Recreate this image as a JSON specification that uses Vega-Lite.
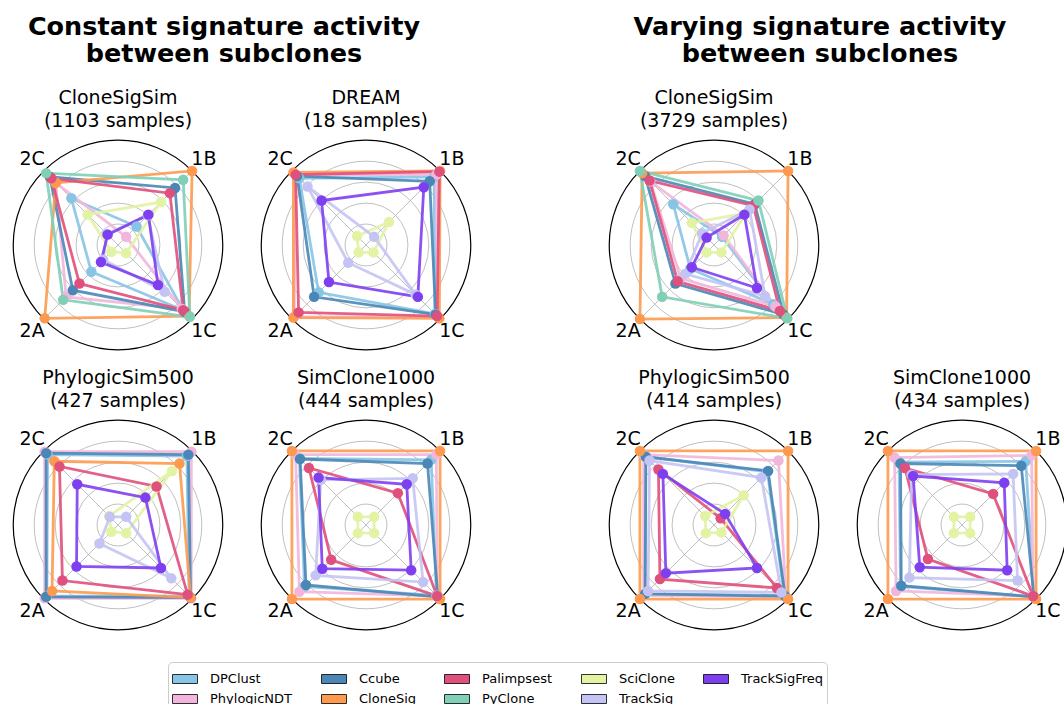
{
  "$schema": "https://vega.github.io/schema/vega-lite/v6.json",
  "padding": {"left": 8, "top": 14, "right": 0, "bottom": 0},
  "background": "white",
  "config": {
    "view": {"stroke": null},
    "font": "DejaVu Sans",
    "title": {"font": "DejaVu Sans", "fontSize": 19, "fontWeight": "normal", "color": "black", "lineHeight": 23, "offset": 4},
    "concat": {"spacing": 28}
  },
  "datasets": {
    "grid": [{"r": 0.2}, {"r": 0.4}, {"r": 0.6}, {"r": 0.8}],
    "outer": [{"r": 1.0}],
    "spokes": [{"a": "1B"}, {"a": "1C"}, {"a": "2A"}, {"a": "2C"}],
    "scores": [
      {"p":"P1","m":"DPClust","a":"1B","v":0.25},{"p":"P1","m":"DPClust","a":"1C","v":0.88},{"p":"P1","m":"DPClust","a":"2A","v":0.36},{"p":"P1","m":"DPClust","a":"2C","v":0.63},
      {"p":"P1","m":"PhylogicNDT","a":"1B","v":0.11},{"p":"P1","m":"PhylogicNDT","a":"1C","v":0.86},{"p":"P1","m":"PhylogicNDT","a":"2A","v":0.70},{"p":"P1","m":"PhylogicNDT","a":"2C","v":0.84},
      {"p":"P1","m":"Ccube","a":"1B","v":0.77},{"p":"P1","m":"Ccube","a":"1C","v":0.90},{"p":"P1","m":"Ccube","a":"2A","v":0.61},{"p":"P1","m":"Ccube","a":"2C","v":0.92},
      {"p":"P1","m":"CloneSig","a":"1B","v":1.0},{"p":"P1","m":"CloneSig","a":"1C","v":0.96},{"p":"P1","m":"CloneSig","a":"2A","v":0.99},{"p":"P1","m":"CloneSig","a":"2C","v":0.84},
      {"p":"P1","m":"Palimpsest","a":"1B","v":0.70},{"p":"P1","m":"Palimpsest","a":"1C","v":0.88},{"p":"P1","m":"Palimpsest","a":"2A","v":0.52},{"p":"P1","m":"Palimpsest","a":"2C","v":0.90},
      {"p":"P1","m":"PyClone","a":"1B","v":0.88},{"p":"P1","m":"PyClone","a":"1C","v":0.97},{"p":"P1","m":"PyClone","a":"2A","v":0.74},{"p":"P1","m":"PyClone","a":"2C","v":0.97},
      {"p":"P1","m":"SciClone","a":"1B","v":0.58},{"p":"P1","m":"SciClone","a":"1C","v":0.11},{"p":"P1","m":"SciClone","a":"2A","v":0.09},{"p":"P1","m":"SciClone","a":"2C","v":0.41},
      {"p":"P1","m":"TrackSig","a":"1B","v":0.40},{"p":"P1","m":"TrackSig","a":"1C","v":0.63},{"p":"P1","m":"TrackSig","a":"2A","v":0.20},{"p":"P1","m":"TrackSig","a":"2C","v":0.15},
      {"p":"P1","m":"TrackSigFreq","a":"1B","v":0.41},{"p":"P1","m":"TrackSigFreq","a":"1C","v":0.54},{"p":"P1","m":"TrackSigFreq","a":"2A","v":0.23},{"p":"P1","m":"TrackSigFreq","a":"2C","v":0.14},

      {"p":"P2","m":"DPClust","a":"1B","v":0.92},{"p":"P2","m":"DPClust","a":"1C","v":0.93},{"p":"P2","m":"DPClust","a":"2A","v":0.64},{"p":"P2","m":"DPClust","a":"2C","v":0.90},
      {"p":"P2","m":"PhylogicNDT","a":"1B","v":0.95},{"p":"P2","m":"PhylogicNDT","a":"1C","v":0.97},{"p":"P2","m":"PhylogicNDT","a":"2A","v":0.97},{"p":"P2","m":"PhylogicNDT","a":"2C","v":0.95},
      {"p":"P2","m":"Ccube","a":"1B","v":0.86},{"p":"P2","m":"Ccube","a":"1C","v":0.94},{"p":"P2","m":"Ccube","a":"2A","v":0.70},{"p":"P2","m":"Ccube","a":"2C","v":0.93},
      {"p":"P2","m":"CloneSig","a":"1B","v":1.0},{"p":"P2","m":"CloneSig","a":"1C","v":0.99},{"p":"P2","m":"CloneSig","a":"2A","v":0.98},{"p":"P2","m":"CloneSig","a":"2C","v":0.98},
      {"p":"P2","m":"Palimpsest","a":"1B","v":0.99},{"p":"P2","m":"Palimpsest","a":"1C","v":0.96},{"p":"P2","m":"Palimpsest","a":"2A","v":0.91},{"p":"P2","m":"Palimpsest","a":"2C","v":0.95},
      {"p":"P2","m":"SciClone","a":"1B","v":0.31},{"p":"P2","m":"SciClone","a":"1C","v":0.10},{"p":"P2","m":"SciClone","a":"2A","v":0.10},{"p":"P2","m":"SciClone","a":"2C","v":0.12},
      {"p":"P2","m":"TrackSig","a":"1B","v":0.11},{"p":"P2","m":"TrackSig","a":"1C","v":0.67},{"p":"P2","m":"TrackSig","a":"2A","v":0.24},{"p":"P2","m":"TrackSig","a":"2C","v":0.79},
      {"p":"P2","m":"TrackSigFreq","a":"1B","v":0.78},{"p":"P2","m":"TrackSigFreq","a":"1C","v":0.70},{"p":"P2","m":"TrackSigFreq","a":"2A","v":0.50},{"p":"P2","m":"TrackSigFreq","a":"2C","v":0.60},

      {"p":"P3","m":"DPClust","a":"1B","v":0.11},{"p":"P3","m":"DPClust","a":"1C","v":0.80},{"p":"P3","m":"DPClust","a":"2A","v":0.32},{"p":"P3","m":"DPClust","a":"2C","v":0.55},
      {"p":"P3","m":"PhylogicNDT","a":"1B","v":0.13},{"p":"P3","m":"PhylogicNDT","a":"1C","v":0.83},{"p":"P3","m":"PhylogicNDT","a":"2A","v":0.45},{"p":"P3","m":"PhylogicNDT","a":"2C","v":0.86},
      {"p":"P3","m":"Ccube","a":"1B","v":0.55},{"p":"P3","m":"Ccube","a":"1C","v":0.94},{"p":"P3","m":"Ccube","a":"2A","v":0.52},{"p":"P3","m":"Ccube","a":"2C","v":0.93},
      {"p":"P3","m":"CloneSig","a":"1B","v":1.0},{"p":"P3","m":"CloneSig","a":"1C","v":0.98},{"p":"P3","m":"CloneSig","a":"2A","v":1.0},{"p":"P3","m":"CloneSig","a":"2C","v":0.97},
      {"p":"P3","m":"Palimpsest","a":"1B","v":0.53},{"p":"P3","m":"Palimpsest","a":"1C","v":0.89},{"p":"P3","m":"Palimpsest","a":"2A","v":0.49},{"p":"P3","m":"Palimpsest","a":"2C","v":0.87},
      {"p":"P3","m":"PyClone","a":"1B","v":0.60},{"p":"P3","m":"PyClone","a":"1C","v":0.99},{"p":"P3","m":"PyClone","a":"2A","v":0.70},{"p":"P3","m":"PyClone","a":"2C","v":1.0},
      {"p":"P3","m":"SciClone","a":"1B","v":0.43},{"p":"P3","m":"SciClone","a":"1C","v":0.10},{"p":"P3","m":"SciClone","a":"2A","v":0.10},{"p":"P3","m":"SciClone","a":"2C","v":0.30},
      {"p":"P3","m":"TrackSig","a":"1B","v":0.48},{"p":"P3","m":"TrackSig","a":"1C","v":0.69},{"p":"P3","m":"TrackSig","a":"2A","v":0.39},{"p":"P3","m":"TrackSig","a":"2C","v":0.16},
      {"p":"P3","m":"TrackSigFreq","a":"1B","v":0.41},{"p":"P3","m":"TrackSigFreq","a":"1C","v":0.58},{"p":"P3","m":"TrackSigFreq","a":"2A","v":0.30},{"p":"P3","m":"TrackSigFreq","a":"2C","v":0.10},

      {"p":"P4","m":"DPClust","a":"1B","v":0.93},{"p":"P4","m":"DPClust","a":"1C","v":0.96},{"p":"P4","m":"DPClust","a":"2A","v":0.96},{"p":"P4","m":"DPClust","a":"2C","v":0.95},
      {"p":"P4","m":"PhylogicNDT","a":"1B","v":0.99},{"p":"P4","m":"PhylogicNDT","a":"1C","v":0.99},{"p":"P4","m":"PhylogicNDT","a":"2A","v":0.99},{"p":"P4","m":"PhylogicNDT","a":"2C","v":0.99},
      {"p":"P4","m":"Ccube","a":"1B","v":0.95},{"p":"P4","m":"Ccube","a":"1C","v":0.98},{"p":"P4","m":"Ccube","a":"2A","v":0.97},{"p":"P4","m":"Ccube","a":"2C","v":0.97},
      {"p":"P4","m":"CloneSig","a":"1B","v":0.83},{"p":"P4","m":"CloneSig","a":"1C","v":0.98},{"p":"P4","m":"CloneSig","a":"2A","v":0.89},{"p":"P4","m":"CloneSig","a":"2C","v":0.86},
      {"p":"P4","m":"Palimpsest","a":"1B","v":0.52},{"p":"P4","m":"Palimpsest","a":"1C","v":0.94},{"p":"P4","m":"Palimpsest","a":"2A","v":0.75},{"p":"P4","m":"Palimpsest","a":"2C","v":0.79},
      {"p":"P4","m":"SciClone","a":"1B","v":0.73},{"p":"P4","m":"SciClone","a":"1C","v":0.11},{"p":"P4","m":"SciClone","a":"2A","v":0.09},{"p":"P4","m":"SciClone","a":"2C","v":0.12},
      {"p":"P4","m":"TrackSig","a":"1B","v":0.11},{"p":"P4","m":"TrackSig","a":"1C","v":0.72},{"p":"P4","m":"TrackSig","a":"2A","v":0.25},{"p":"P4","m":"TrackSig","a":"2C","v":0.11},
      {"p":"P4","m":"TrackSigFreq","a":"1B","v":0.37},{"p":"P4","m":"TrackSigFreq","a":"1C","v":0.58},{"p":"P4","m":"TrackSigFreq","a":"2A","v":0.56},{"p":"P4","m":"TrackSigFreq","a":"2C","v":0.55},

      {"p":"P5","m":"DPClust","a":"1B","v":0.88},{"p":"P5","m":"DPClust","a":"1C","v":0.95},{"p":"P5","m":"DPClust","a":"2A","v":0.83},{"p":"P5","m":"DPClust","a":"2C","v":0.90},
      {"p":"P5","m":"PhylogicNDT","a":"1B","v":0.95},{"p":"P5","m":"PhylogicNDT","a":"1C","v":0.96},{"p":"P5","m":"PhylogicNDT","a":"2A","v":0.90},{"p":"P5","m":"PhylogicNDT","a":"2C","v":0.95},
      {"p":"P5","m":"Ccube","a":"1B","v":0.83},{"p":"P5","m":"Ccube","a":"1C","v":0.97},{"p":"P5","m":"Ccube","a":"2A","v":0.81},{"p":"P5","m":"Ccube","a":"2C","v":0.89},
      {"p":"P5","m":"CloneSig","a":"1B","v":1.0},{"p":"P5","m":"CloneSig","a":"1C","v":1.0},{"p":"P5","m":"CloneSig","a":"2A","v":1.0},{"p":"P5","m":"CloneSig","a":"2C","v":1.0},
      {"p":"P5","m":"Palimpsest","a":"1B","v":0.43},{"p":"P5","m":"Palimpsest","a":"1C","v":0.96},{"p":"P5","m":"Palimpsest","a":"2A","v":0.47},{"p":"P5","m":"Palimpsest","a":"2C","v":0.77},
      {"p":"P5","m":"SciClone","a":"1B","v":0.11},{"p":"P5","m":"SciClone","a":"1C","v":0.11},{"p":"P5","m":"SciClone","a":"2A","v":0.11},{"p":"P5","m":"SciClone","a":"2C","v":0.11},
      {"p":"P5","m":"TrackSig","a":"1B","v":0.63},{"p":"P5","m":"TrackSig","a":"1C","v":0.77},{"p":"P5","m":"TrackSig","a":"2A","v":0.68},{"p":"P5","m":"TrackSig","a":"2C","v":0.61},
      {"p":"P5","m":"TrackSigFreq","a":"1B","v":0.55},{"p":"P5","m":"TrackSigFreq","a":"1C","v":0.61},{"p":"P5","m":"TrackSigFreq","a":"2A","v":0.59},{"p":"P5","m":"TrackSigFreq","a":"2C","v":0.64},

      {"p":"P6","m":"DPClust","a":"1B","v":0.72},{"p":"P6","m":"DPClust","a":"1C","v":0.95},{"p":"P6","m":"DPClust","a":"2A","v":0.93},{"p":"P6","m":"DPClust","a":"2C","v":0.92},
      {"p":"P6","m":"PhylogicNDT","a":"1B","v":0.87},{"p":"P6","m":"PhylogicNDT","a":"1C","v":0.97},{"p":"P6","m":"PhylogicNDT","a":"2A","v":0.95},{"p":"P6","m":"PhylogicNDT","a":"2C","v":0.95},
      {"p":"P6","m":"Ccube","a":"1B","v":0.73},{"p":"P6","m":"Ccube","a":"1C","v":0.96},{"p":"P6","m":"Ccube","a":"2A","v":0.93},{"p":"P6","m":"Ccube","a":"2C","v":0.92},
      {"p":"P6","m":"CloneSig","a":"1B","v":1.0},{"p":"P6","m":"CloneSig","a":"1C","v":1.0},{"p":"P6","m":"CloneSig","a":"2A","v":1.0},{"p":"P6","m":"CloneSig","a":"2C","v":1.0},
      {"p":"P6","m":"Palimpsest","a":"1B","v":0.09},{"p":"P6","m":"Palimpsest","a":"1C","v":0.85},{"p":"P6","m":"Palimpsest","a":"2A","v":0.73},{"p":"P6","m":"Palimpsest","a":"2C","v":0.75},
      {"p":"P6","m":"SciClone","a":"1B","v":0.40},{"p":"P6","m":"SciClone","a":"1C","v":0.10},{"p":"P6","m":"SciClone","a":"2A","v":0.11},{"p":"P6","m":"SciClone","a":"2C","v":0.12},
      {"p":"P6","m":"TrackSig","a":"1B","v":0.64},{"p":"P6","m":"TrackSig","a":"1C","v":0.91},{"p":"P6","m":"TrackSig","a":"2A","v":0.89},{"p":"P6","m":"TrackSig","a":"2C","v":0.87},
      {"p":"P6","m":"TrackSigFreq","a":"1B","v":0.15},{"p":"P6","m":"TrackSigFreq","a":"1C","v":0.58},{"p":"P6","m":"TrackSigFreq","a":"2A","v":0.65},{"p":"P6","m":"TrackSigFreq","a":"2C","v":0.69},

      {"p":"P7","m":"DPClust","a":"1B","v":0.86},{"p":"P7","m":"DPClust","a":"1C","v":0.97},{"p":"P7","m":"DPClust","a":"2A","v":0.83},{"p":"P7","m":"DPClust","a":"2C","v":0.85},
      {"p":"P7","m":"PhylogicNDT","a":"1B","v":0.94},{"p":"P7","m":"PhylogicNDT","a":"1C","v":0.96},{"p":"P7","m":"PhylogicNDT","a":"2A","v":0.89},{"p":"P7","m":"PhylogicNDT","a":"2C","v":0.91},
      {"p":"P7","m":"Ccube","a":"1B","v":0.80},{"p":"P7","m":"Ccube","a":"1C","v":0.97},{"p":"P7","m":"Ccube","a":"2A","v":0.82},{"p":"P7","m":"Ccube","a":"2C","v":0.83},
      {"p":"P7","m":"CloneSig","a":"1B","v":1.0},{"p":"P7","m":"CloneSig","a":"1C","v":1.0},{"p":"P7","m":"CloneSig","a":"2A","v":1.0},{"p":"P7","m":"CloneSig","a":"2C","v":1.0},
      {"p":"P7","m":"Palimpsest","a":"1B","v":0.42},{"p":"P7","m":"Palimpsest","a":"1C","v":0.96},{"p":"P7","m":"Palimpsest","a":"2A","v":0.46},{"p":"P7","m":"Palimpsest","a":"2C","v":0.77},
      {"p":"P7","m":"SciClone","a":"1B","v":0.11},{"p":"P7","m":"SciClone","a":"1C","v":0.11},{"p":"P7","m":"SciClone","a":"2A","v":0.11},{"p":"P7","m":"SciClone","a":"2C","v":0.11},
      {"p":"P7","m":"TrackSig","a":"1B","v":0.69},{"p":"P7","m":"TrackSig","a":"1C","v":0.75},{"p":"P7","m":"TrackSig","a":"2A","v":0.71},{"p":"P7","m":"TrackSig","a":"2C","v":0.68},
      {"p":"P7","m":"TrackSigFreq","a":"1B","v":0.57},{"p":"P7","m":"TrackSigFreq","a":"1C","v":0.61},{"p":"P7","m":"TrackSigFreq","a":"2A","v":0.57},{"p":"P7","m":"TrackSigFreq","a":"2C","v":0.66}
    ]
  },
  "resolve": {"scale": {"fill": "independent"}, "legend": {"fill": "independent"}},
  "spacing": 22,
  "vconcat": [
  {
  "spacing": 128,
  "hconcat": [
    {
      "title": {"text": ["Constant signature activity", "between subclones"], "fontSize": 25.5, "fontWeight": "bold", "lineHeight": 27, "anchor": "middle", "dx": -18, "offset": 22},
      "spacing": 14,
      "vconcat": [
        {"spacing": 28, "hconcat": [
          {"width": 220, "height": 220, "title": {"text": ["CloneSigSim", "(1103 samples)"]},
           "layer": [
            {"data": {"name": "grid"}, "transform": [{"calculate": "0", "as": "o"}], "mark": {"type": "point", "shape": "circle", "filled": false, "stroke": "#b0b0b0", "strokeWidth": 0.8, "opacity": 1}, "encoding": {"x": {"field": "o", "type": "quantitative", "scale": {"domain": [-1.05, 1.05], "nice": false, "zero": false}, "axis": null}, "y": {"field": "o", "type": "quantitative", "scale": {"domain": [-1.05, 1.05], "nice": false, "zero": false}, "axis": null}, "size": {"field": "r", "type": "quantitative", "scale": {"type": "pow", "exponent": 2, "domain": [0, 1.05], "range": [0, 48400]}, "legend": null}}},
            {"data": {"name": "outer"}, "transform": [{"calculate": "0", "as": "o"}], "mark": {"type": "point", "shape": "circle", "filled": false, "stroke": "black", "strokeWidth": 1.2, "opacity": 1}, "encoding": {"x": {"field": "o", "type": "quantitative", "scale": {"domain": [-1.05, 1.05], "nice": false, "zero": false}, "axis": null}, "y": {"field": "o", "type": "quantitative", "scale": {"domain": [-1.05, 1.05], "nice": false, "zero": false}, "axis": null}, "size": {"field": "r", "type": "quantitative", "scale": {"type": "pow", "exponent": 2, "domain": [0, 1.05], "range": [0, 48400]}, "legend": null}}},
            {"data": {"name": "spokes"}, "transform": [{"calculate": "(datum.a=='1B'||datum.a=='1C'?1:-1)*0.70711", "as": "sx"}, {"calculate": "(datum.a=='1B'||datum.a=='2C'?1:-1)*0.70711", "as": "sy"}, {"calculate": "0", "as": "o"}], "mark": {"type": "rule", "stroke": "#b0b0b0", "strokeWidth": 0.8}, "encoding": {"x": {"field": "o", "type": "quantitative", "scale": {"domain": [-1.05, 1.05], "nice": false, "zero": false}, "axis": null}, "y": {"field": "o", "type": "quantitative", "scale": {"domain": [-1.05, 1.05], "nice": false, "zero": false}, "axis": null}, "x2": {"field": "sx"}, "y2": {"field": "sy"}}},
            {"data": {"name": "spokes"}, "transform": [{"calculate": "(datum.a=='1B'||datum.a=='1C'?1:-1)*0.82", "as": "lx"}, {"calculate": "(datum.a=='1B'||datum.a=='2C'?1:-1)*0.82", "as": "ly"}], "mark": {"type": "text", "fontSize": 19, "font": "DejaVu Sans", "color": "black"}, "encoding": {"x": {"field": "lx", "type": "quantitative", "scale": {"domain": [-1.05, 1.05], "nice": false, "zero": false}, "axis": null}, "y": {"field": "ly", "type": "quantitative", "scale": {"domain": [-1.05, 1.05], "nice": false, "zero": false}, "axis": null}, "text": {"field": "a"}}},
            {"data": {"name": "scores"}, "transform": [{"filter": "datum.p=='P1'"}, {"calculate": "(datum.a=='1B'||datum.a=='1C'?1:-1)*datum.v*0.70711", "as": "x"}, {"calculate": "(datum.a=='1B'||datum.a=='2C'?1:-1)*datum.v*0.70711", "as": "y"}],
             "encoding": {"x": {"field": "x", "type": "quantitative", "scale": {"domain": [-1.05, 1.05], "nice": false, "zero": false}, "axis": null}, "y": {"field": "y", "type": "quantitative", "scale": {"domain": [-1.05, 1.05], "nice": false, "zero": false}, "axis": null},
              "color": {"field": "m", "type": "nominal", "scale": {"domain": ["DPClust","Ccube","Palimpsest","SciClone","TrackSigFreq","PhylogicNDT","CloneSig","PyClone","TrackSig"], "range": ["#88c4e6","#4a87b6","#e0507c","#e2f3a4","#7e3ff0","#f2b6dc","#fd9a50","#80cfb6","#c4c4f4"]}, "legend": null}},
             "layer": [
              {"mark": {"type": "line", "interpolate": "linear-closed", "strokeWidth": 2.8, "opacity": 0.9}, "encoding": {"order": {"field": "a", "type": "ordinal"}}},
              {"mark": {"type": "point", "filled": true, "size": 110, "opacity": 1}}
             ]}
           ]},
          {"width": 220, "height": 220, "title": {"text": ["DREAM", "(18 samples)"]},
           "layer": [
            {"data": {"name": "grid"}, "transform": [{"calculate": "0", "as": "o"}], "mark": {"type": "point", "shape": "circle", "filled": false, "stroke": "#b0b0b0", "strokeWidth": 0.8, "opacity": 1}, "encoding": {"x": {"field": "o", "type": "quantitative", "scale": {"domain": [-1.05, 1.05], "nice": false, "zero": false}, "axis": null}, "y": {"field": "o", "type": "quantitative", "scale": {"domain": [-1.05, 1.05], "nice": false, "zero": false}, "axis": null}, "size": {"field": "r", "type": "quantitative", "scale": {"type": "pow", "exponent": 2, "domain": [0, 1.05], "range": [0, 48400]}, "legend": null}}},
            {"data": {"name": "outer"}, "transform": [{"calculate": "0", "as": "o"}], "mark": {"type": "point", "shape": "circle", "filled": false, "stroke": "black", "strokeWidth": 1.2, "opacity": 1}, "encoding": {"x": {"field": "o", "type": "quantitative", "scale": {"domain": [-1.05, 1.05], "nice": false, "zero": false}, "axis": null}, "y": {"field": "o", "type": "quantitative", "scale": {"domain": [-1.05, 1.05], "nice": false, "zero": false}, "axis": null}, "size": {"field": "r", "type": "quantitative", "scale": {"type": "pow", "exponent": 2, "domain": [0, 1.05], "range": [0, 48400]}, "legend": null}}},
            {"data": {"name": "spokes"}, "transform": [{"calculate": "(datum.a=='1B'||datum.a=='1C'?1:-1)*0.70711", "as": "sx"}, {"calculate": "(datum.a=='1B'||datum.a=='2C'?1:-1)*0.70711", "as": "sy"}, {"calculate": "0", "as": "o"}], "mark": {"type": "rule", "stroke": "#b0b0b0", "strokeWidth": 0.8}, "encoding": {"x": {"field": "o", "type": "quantitative", "scale": {"domain": [-1.05, 1.05], "nice": false, "zero": false}, "axis": null}, "y": {"field": "o", "type": "quantitative", "scale": {"domain": [-1.05, 1.05], "nice": false, "zero": false}, "axis": null}, "x2": {"field": "sx"}, "y2": {"field": "sy"}}},
            {"data": {"name": "spokes"}, "transform": [{"calculate": "(datum.a=='1B'||datum.a=='1C'?1:-1)*0.82", "as": "lx"}, {"calculate": "(datum.a=='1B'||datum.a=='2C'?1:-1)*0.82", "as": "ly"}], "mark": {"type": "text", "fontSize": 19, "font": "DejaVu Sans", "color": "black"}, "encoding": {"x": {"field": "lx", "type": "quantitative", "scale": {"domain": [-1.05, 1.05], "nice": false, "zero": false}, "axis": null}, "y": {"field": "ly", "type": "quantitative", "scale": {"domain": [-1.05, 1.05], "nice": false, "zero": false}, "axis": null}, "text": {"field": "a"}}},
            {"data": {"name": "scores"}, "transform": [{"filter": "datum.p=='P2'"}, {"calculate": "(datum.a=='1B'||datum.a=='1C'?1:-1)*datum.v*0.70711", "as": "x"}, {"calculate": "(datum.a=='1B'||datum.a=='2C'?1:-1)*datum.v*0.70711", "as": "y"}],
             "encoding": {"x": {"field": "x", "type": "quantitative", "scale": {"domain": [-1.05, 1.05], "nice": false, "zero": false}, "axis": null}, "y": {"field": "y", "type": "quantitative", "scale": {"domain": [-1.05, 1.05], "nice": false, "zero": false}, "axis": null},
              "color": {"field": "m", "type": "nominal", "scale": {"domain": ["DPClust","Ccube","Palimpsest","SciClone","TrackSigFreq","PhylogicNDT","CloneSig","PyClone","TrackSig"], "range": ["#88c4e6","#4a87b6","#e0507c","#e2f3a4","#7e3ff0","#f2b6dc","#fd9a50","#80cfb6","#c4c4f4"]}, "legend": null}},
             "layer": [
              {"mark": {"type": "line", "interpolate": "linear-closed", "strokeWidth": 2.8, "opacity": 0.9}, "encoding": {"order": {"field": "a", "type": "ordinal"}}},
              {"mark": {"type": "point", "filled": true, "size": 110, "opacity": 1}}
             ]}
           ]}
        ]},
        {"spacing": 28, "hconcat": [
          {"width": 220, "height": 220, "title": {"text": ["PhylogicSim500", "(427 samples)"]},
           "layer": [
            {"data": {"name": "grid"}, "transform": [{"calculate": "0", "as": "o"}], "mark": {"type": "point", "shape": "circle", "filled": false, "stroke": "#b0b0b0", "strokeWidth": 0.8, "opacity": 1}, "encoding": {"x": {"field": "o", "type": "quantitative", "scale": {"domain": [-1.05, 1.05], "nice": false, "zero": false}, "axis": null}, "y": {"field": "o", "type": "quantitative", "scale": {"domain": [-1.05, 1.05], "nice": false, "zero": false}, "axis": null}, "size": {"field": "r", "type": "quantitative", "scale": {"type": "pow", "exponent": 2, "domain": [0, 1.05], "range": [0, 48400]}, "legend": null}}},
            {"data": {"name": "outer"}, "transform": [{"calculate": "0", "as": "o"}], "mark": {"type": "point", "shape": "circle", "filled": false, "stroke": "black", "strokeWidth": 1.2, "opacity": 1}, "encoding": {"x": {"field": "o", "type": "quantitative", "scale": {"domain": [-1.05, 1.05], "nice": false, "zero": false}, "axis": null}, "y": {"field": "o", "type": "quantitative", "scale": {"domain": [-1.05, 1.05], "nice": false, "zero": false}, "axis": null}, "size": {"field": "r", "type": "quantitative", "scale": {"type": "pow", "exponent": 2, "domain": [0, 1.05], "range": [0, 48400]}, "legend": null}}},
            {"data": {"name": "spokes"}, "transform": [{"calculate": "(datum.a=='1B'||datum.a=='1C'?1:-1)*0.70711", "as": "sx"}, {"calculate": "(datum.a=='1B'||datum.a=='2C'?1:-1)*0.70711", "as": "sy"}, {"calculate": "0", "as": "o"}], "mark": {"type": "rule", "stroke": "#b0b0b0", "strokeWidth": 0.8}, "encoding": {"x": {"field": "o", "type": "quantitative", "scale": {"domain": [-1.05, 1.05], "nice": false, "zero": false}, "axis": null}, "y": {"field": "o", "type": "quantitative", "scale": {"domain": [-1.05, 1.05], "nice": false, "zero": false}, "axis": null}, "x2": {"field": "sx"}, "y2": {"field": "sy"}}},
            {"data": {"name": "spokes"}, "transform": [{"calculate": "(datum.a=='1B'||datum.a=='1C'?1:-1)*0.82", "as": "lx"}, {"calculate": "(datum.a=='1B'||datum.a=='2C'?1:-1)*0.82", "as": "ly"}], "mark": {"type": "text", "fontSize": 19, "font": "DejaVu Sans", "color": "black"}, "encoding": {"x": {"field": "lx", "type": "quantitative", "scale": {"domain": [-1.05, 1.05], "nice": false, "zero": false}, "axis": null}, "y": {"field": "ly", "type": "quantitative", "scale": {"domain": [-1.05, 1.05], "nice": false, "zero": false}, "axis": null}, "text": {"field": "a"}}},
            {"data": {"name": "scores"}, "transform": [{"filter": "datum.p=='P4'"}, {"calculate": "(datum.a=='1B'||datum.a=='1C'?1:-1)*datum.v*0.70711", "as": "x"}, {"calculate": "(datum.a=='1B'||datum.a=='2C'?1:-1)*datum.v*0.70711", "as": "y"}],
             "encoding": {"x": {"field": "x", "type": "quantitative", "scale": {"domain": [-1.05, 1.05], "nice": false, "zero": false}, "axis": null}, "y": {"field": "y", "type": "quantitative", "scale": {"domain": [-1.05, 1.05], "nice": false, "zero": false}, "axis": null},
              "color": {"field": "m", "type": "nominal", "scale": {"domain": ["DPClust","Ccube","Palimpsest","SciClone","TrackSigFreq","PhylogicNDT","CloneSig","PyClone","TrackSig"], "range": ["#88c4e6","#4a87b6","#e0507c","#e2f3a4","#7e3ff0","#f2b6dc","#fd9a50","#80cfb6","#c4c4f4"]}, "legend": null}},
             "layer": [
              {"mark": {"type": "line", "interpolate": "linear-closed", "strokeWidth": 2.8, "opacity": 0.9}, "encoding": {"order": {"field": "a", "type": "ordinal"}}},
              {"mark": {"type": "point", "filled": true, "size": 110, "opacity": 1}}
             ]}
           ]},
          {"width": 220, "height": 220, "title": {"text": ["SimClone1000", "(444 samples)"]},
           "layer": [
            {"data": {"name": "grid"}, "transform": [{"calculate": "0", "as": "o"}], "mark": {"type": "point", "shape": "circle", "filled": false, "stroke": "#b0b0b0", "strokeWidth": 0.8, "opacity": 1}, "encoding": {"x": {"field": "o", "type": "quantitative", "scale": {"domain": [-1.05, 1.05], "nice": false, "zero": false}, "axis": null}, "y": {"field": "o", "type": "quantitative", "scale": {"domain": [-1.05, 1.05], "nice": false, "zero": false}, "axis": null}, "size": {"field": "r", "type": "quantitative", "scale": {"type": "pow", "exponent": 2, "domain": [0, 1.05], "range": [0, 48400]}, "legend": null}}},
            {"data": {"name": "outer"}, "transform": [{"calculate": "0", "as": "o"}], "mark": {"type": "point", "shape": "circle", "filled": false, "stroke": "black", "strokeWidth": 1.2, "opacity": 1}, "encoding": {"x": {"field": "o", "type": "quantitative", "scale": {"domain": [-1.05, 1.05], "nice": false, "zero": false}, "axis": null}, "y": {"field": "o", "type": "quantitative", "scale": {"domain": [-1.05, 1.05], "nice": false, "zero": false}, "axis": null}, "size": {"field": "r", "type": "quantitative", "scale": {"type": "pow", "exponent": 2, "domain": [0, 1.05], "range": [0, 48400]}, "legend": null}}},
            {"data": {"name": "spokes"}, "transform": [{"calculate": "(datum.a=='1B'||datum.a=='1C'?1:-1)*0.70711", "as": "sx"}, {"calculate": "(datum.a=='1B'||datum.a=='2C'?1:-1)*0.70711", "as": "sy"}, {"calculate": "0", "as": "o"}], "mark": {"type": "rule", "stroke": "#b0b0b0", "strokeWidth": 0.8}, "encoding": {"x": {"field": "o", "type": "quantitative", "scale": {"domain": [-1.05, 1.05], "nice": false, "zero": false}, "axis": null}, "y": {"field": "o", "type": "quantitative", "scale": {"domain": [-1.05, 1.05], "nice": false, "zero": false}, "axis": null}, "x2": {"field": "sx"}, "y2": {"field": "sy"}}},
            {"data": {"name": "spokes"}, "transform": [{"calculate": "(datum.a=='1B'||datum.a=='1C'?1:-1)*0.82", "as": "lx"}, {"calculate": "(datum.a=='1B'||datum.a=='2C'?1:-1)*0.82", "as": "ly"}], "mark": {"type": "text", "fontSize": 19, "font": "DejaVu Sans", "color": "black"}, "encoding": {"x": {"field": "lx", "type": "quantitative", "scale": {"domain": [-1.05, 1.05], "nice": false, "zero": false}, "axis": null}, "y": {"field": "ly", "type": "quantitative", "scale": {"domain": [-1.05, 1.05], "nice": false, "zero": false}, "axis": null}, "text": {"field": "a"}}},
            {"data": {"name": "scores"}, "transform": [{"filter": "datum.p=='P5'"}, {"calculate": "(datum.a=='1B'||datum.a=='1C'?1:-1)*datum.v*0.70711", "as": "x"}, {"calculate": "(datum.a=='1B'||datum.a=='2C'?1:-1)*datum.v*0.70711", "as": "y"}],
             "encoding": {"x": {"field": "x", "type": "quantitative", "scale": {"domain": [-1.05, 1.05], "nice": false, "zero": false}, "axis": null}, "y": {"field": "y", "type": "quantitative", "scale": {"domain": [-1.05, 1.05], "nice": false, "zero": false}, "axis": null},
              "color": {"field": "m", "type": "nominal", "scale": {"domain": ["DPClust","Ccube","Palimpsest","SciClone","TrackSigFreq","PhylogicNDT","CloneSig","PyClone","TrackSig"], "range": ["#88c4e6","#4a87b6","#e0507c","#e2f3a4","#7e3ff0","#f2b6dc","#fd9a50","#80cfb6","#c4c4f4"]}, "legend": null}},
             "layer": [
              {"mark": {"type": "line", "interpolate": "linear-closed", "strokeWidth": 2.8, "opacity": 0.9}, "encoding": {"order": {"field": "a", "type": "ordinal"}}},
              {"mark": {"type": "point", "filled": true, "size": 110, "opacity": 1}}
             ]}
           ]}
        ]}
      ]
    },
    {
      "title": {"text": ["Varying signature activity", "between subclones"], "fontSize": 25.5, "fontWeight": "bold", "lineHeight": 27, "anchor": "middle", "dx": -18, "offset": 22},
      "spacing": 14,
      "vconcat": [
        {"spacing": 28, "hconcat": [
          {"width": 220, "height": 220, "title": {"text": ["CloneSigSim", "(3729 samples)"]},
           "layer": [
            {"data": {"name": "grid"}, "transform": [{"calculate": "0", "as": "o"}], "mark": {"type": "point", "shape": "circle", "filled": false, "stroke": "#b0b0b0", "strokeWidth": 0.8, "opacity": 1}, "encoding": {"x": {"field": "o", "type": "quantitative", "scale": {"domain": [-1.05, 1.05], "nice": false, "zero": false}, "axis": null}, "y": {"field": "o", "type": "quantitative", "scale": {"domain": [-1.05, 1.05], "nice": false, "zero": false}, "axis": null}, "size": {"field": "r", "type": "quantitative", "scale": {"type": "pow", "exponent": 2, "domain": [0, 1.05], "range": [0, 48400]}, "legend": null}}},
            {"data": {"name": "outer"}, "transform": [{"calculate": "0", "as": "o"}], "mark": {"type": "point", "shape": "circle", "filled": false, "stroke": "black", "strokeWidth": 1.2, "opacity": 1}, "encoding": {"x": {"field": "o", "type": "quantitative", "scale": {"domain": [-1.05, 1.05], "nice": false, "zero": false}, "axis": null}, "y": {"field": "o", "type": "quantitative", "scale": {"domain": [-1.05, 1.05], "nice": false, "zero": false}, "axis": null}, "size": {"field": "r", "type": "quantitative", "scale": {"type": "pow", "exponent": 2, "domain": [0, 1.05], "range": [0, 48400]}, "legend": null}}},
            {"data": {"name": "spokes"}, "transform": [{"calculate": "(datum.a=='1B'||datum.a=='1C'?1:-1)*0.70711", "as": "sx"}, {"calculate": "(datum.a=='1B'||datum.a=='2C'?1:-1)*0.70711", "as": "sy"}, {"calculate": "0", "as": "o"}], "mark": {"type": "rule", "stroke": "#b0b0b0", "strokeWidth": 0.8}, "encoding": {"x": {"field": "o", "type": "quantitative", "scale": {"domain": [-1.05, 1.05], "nice": false, "zero": false}, "axis": null}, "y": {"field": "o", "type": "quantitative", "scale": {"domain": [-1.05, 1.05], "nice": false, "zero": false}, "axis": null}, "x2": {"field": "sx"}, "y2": {"field": "sy"}}},
            {"data": {"name": "spokes"}, "transform": [{"calculate": "(datum.a=='1B'||datum.a=='1C'?1:-1)*0.82", "as": "lx"}, {"calculate": "(datum.a=='1B'||datum.a=='2C'?1:-1)*0.82", "as": "ly"}], "mark": {"type": "text", "fontSize": 19, "font": "DejaVu Sans", "color": "black"}, "encoding": {"x": {"field": "lx", "type": "quantitative", "scale": {"domain": [-1.05, 1.05], "nice": false, "zero": false}, "axis": null}, "y": {"field": "ly", "type": "quantitative", "scale": {"domain": [-1.05, 1.05], "nice": false, "zero": false}, "axis": null}, "text": {"field": "a"}}},
            {"data": {"name": "scores"}, "transform": [{"filter": "datum.p=='P3'"}, {"calculate": "(datum.a=='1B'||datum.a=='1C'?1:-1)*datum.v*0.70711", "as": "x"}, {"calculate": "(datum.a=='1B'||datum.a=='2C'?1:-1)*datum.v*0.70711", "as": "y"}],
             "encoding": {"x": {"field": "x", "type": "quantitative", "scale": {"domain": [-1.05, 1.05], "nice": false, "zero": false}, "axis": null}, "y": {"field": "y", "type": "quantitative", "scale": {"domain": [-1.05, 1.05], "nice": false, "zero": false}, "axis": null},
              "color": {"field": "m", "type": "nominal", "scale": {"domain": ["DPClust","Ccube","Palimpsest","SciClone","TrackSigFreq","PhylogicNDT","CloneSig","PyClone","TrackSig"], "range": ["#88c4e6","#4a87b6","#e0507c","#e2f3a4","#7e3ff0","#f2b6dc","#fd9a50","#80cfb6","#c4c4f4"]}, "legend": null}},
             "layer": [
              {"mark": {"type": "line", "interpolate": "linear-closed", "strokeWidth": 2.8, "opacity": 0.9}, "encoding": {"order": {"field": "a", "type": "ordinal"}}},
              {"mark": {"type": "point", "filled": true, "size": 110, "opacity": 1}}
             ]}
           ]}
        ]},
        {"spacing": 28, "hconcat": [
          {"width": 220, "height": 220, "title": {"text": ["PhylogicSim500", "(414 samples)"]},
           "layer": [
            {"data": {"name": "grid"}, "transform": [{"calculate": "0", "as": "o"}], "mark": {"type": "point", "shape": "circle", "filled": false, "stroke": "#b0b0b0", "strokeWidth": 0.8, "opacity": 1}, "encoding": {"x": {"field": "o", "type": "quantitative", "scale": {"domain": [-1.05, 1.05], "nice": false, "zero": false}, "axis": null}, "y": {"field": "o", "type": "quantitative", "scale": {"domain": [-1.05, 1.05], "nice": false, "zero": false}, "axis": null}, "size": {"field": "r", "type": "quantitative", "scale": {"type": "pow", "exponent": 2, "domain": [0, 1.05], "range": [0, 48400]}, "legend": null}}},
            {"data": {"name": "outer"}, "transform": [{"calculate": "0", "as": "o"}], "mark": {"type": "point", "shape": "circle", "filled": false, "stroke": "black", "strokeWidth": 1.2, "opacity": 1}, "encoding": {"x": {"field": "o", "type": "quantitative", "scale": {"domain": [-1.05, 1.05], "nice": false, "zero": false}, "axis": null}, "y": {"field": "o", "type": "quantitative", "scale": {"domain": [-1.05, 1.05], "nice": false, "zero": false}, "axis": null}, "size": {"field": "r", "type": "quantitative", "scale": {"type": "pow", "exponent": 2, "domain": [0, 1.05], "range": [0, 48400]}, "legend": null}}},
            {"data": {"name": "spokes"}, "transform": [{"calculate": "(datum.a=='1B'||datum.a=='1C'?1:-1)*0.70711", "as": "sx"}, {"calculate": "(datum.a=='1B'||datum.a=='2C'?1:-1)*0.70711", "as": "sy"}, {"calculate": "0", "as": "o"}], "mark": {"type": "rule", "stroke": "#b0b0b0", "strokeWidth": 0.8}, "encoding": {"x": {"field": "o", "type": "quantitative", "scale": {"domain": [-1.05, 1.05], "nice": false, "zero": false}, "axis": null}, "y": {"field": "o", "type": "quantitative", "scale": {"domain": [-1.05, 1.05], "nice": false, "zero": false}, "axis": null}, "x2": {"field": "sx"}, "y2": {"field": "sy"}}},
            {"data": {"name": "spokes"}, "transform": [{"calculate": "(datum.a=='1B'||datum.a=='1C'?1:-1)*0.82", "as": "lx"}, {"calculate": "(datum.a=='1B'||datum.a=='2C'?1:-1)*0.82", "as": "ly"}], "mark": {"type": "text", "fontSize": 19, "font": "DejaVu Sans", "color": "black"}, "encoding": {"x": {"field": "lx", "type": "quantitative", "scale": {"domain": [-1.05, 1.05], "nice": false, "zero": false}, "axis": null}, "y": {"field": "ly", "type": "quantitative", "scale": {"domain": [-1.05, 1.05], "nice": false, "zero": false}, "axis": null}, "text": {"field": "a"}}},
            {"data": {"name": "scores"}, "transform": [{"filter": "datum.p=='P6'"}, {"calculate": "(datum.a=='1B'||datum.a=='1C'?1:-1)*datum.v*0.70711", "as": "x"}, {"calculate": "(datum.a=='1B'||datum.a=='2C'?1:-1)*datum.v*0.70711", "as": "y"}],
             "encoding": {"x": {"field": "x", "type": "quantitative", "scale": {"domain": [-1.05, 1.05], "nice": false, "zero": false}, "axis": null}, "y": {"field": "y", "type": "quantitative", "scale": {"domain": [-1.05, 1.05], "nice": false, "zero": false}, "axis": null},
              "color": {"field": "m", "type": "nominal", "scale": {"domain": ["DPClust","Ccube","Palimpsest","SciClone","TrackSigFreq","PhylogicNDT","CloneSig","PyClone","TrackSig"], "range": ["#88c4e6","#4a87b6","#e0507c","#e2f3a4","#7e3ff0","#f2b6dc","#fd9a50","#80cfb6","#c4c4f4"]}, "legend": null}},
             "layer": [
              {"mark": {"type": "line", "interpolate": "linear-closed", "strokeWidth": 2.8, "opacity": 0.9}, "encoding": {"order": {"field": "a", "type": "ordinal"}}},
              {"mark": {"type": "point", "filled": true, "size": 110, "opacity": 1}}
             ]}
           ]},
          {"width": 220, "height": 220, "title": {"text": ["SimClone1000", "(434 samples)"]},
           "layer": [
            {"data": {"name": "grid"}, "transform": [{"calculate": "0", "as": "o"}], "mark": {"type": "point", "shape": "circle", "filled": false, "stroke": "#b0b0b0", "strokeWidth": 0.8, "opacity": 1}, "encoding": {"x": {"field": "o", "type": "quantitative", "scale": {"domain": [-1.05, 1.05], "nice": false, "zero": false}, "axis": null}, "y": {"field": "o", "type": "quantitative", "scale": {"domain": [-1.05, 1.05], "nice": false, "zero": false}, "axis": null}, "size": {"field": "r", "type": "quantitative", "scale": {"type": "pow", "exponent": 2, "domain": [0, 1.05], "range": [0, 48400]}, "legend": null}}},
            {"data": {"name": "outer"}, "transform": [{"calculate": "0", "as": "o"}], "mark": {"type": "point", "shape": "circle", "filled": false, "stroke": "black", "strokeWidth": 1.2, "opacity": 1}, "encoding": {"x": {"field": "o", "type": "quantitative", "scale": {"domain": [-1.05, 1.05], "nice": false, "zero": false}, "axis": null}, "y": {"field": "o", "type": "quantitative", "scale": {"domain": [-1.05, 1.05], "nice": false, "zero": false}, "axis": null}, "size": {"field": "r", "type": "quantitative", "scale": {"type": "pow", "exponent": 2, "domain": [0, 1.05], "range": [0, 48400]}, "legend": null}}},
            {"data": {"name": "spokes"}, "transform": [{"calculate": "(datum.a=='1B'||datum.a=='1C'?1:-1)*0.70711", "as": "sx"}, {"calculate": "(datum.a=='1B'||datum.a=='2C'?1:-1)*0.70711", "as": "sy"}, {"calculate": "0", "as": "o"}], "mark": {"type": "rule", "stroke": "#b0b0b0", "strokeWidth": 0.8}, "encoding": {"x": {"field": "o", "type": "quantitative", "scale": {"domain": [-1.05, 1.05], "nice": false, "zero": false}, "axis": null}, "y": {"field": "o", "type": "quantitative", "scale": {"domain": [-1.05, 1.05], "nice": false, "zero": false}, "axis": null}, "x2": {"field": "sx"}, "y2": {"field": "sy"}}},
            {"data": {"name": "spokes"}, "transform": [{"calculate": "(datum.a=='1B'||datum.a=='1C'?1:-1)*0.82", "as": "lx"}, {"calculate": "(datum.a=='1B'||datum.a=='2C'?1:-1)*0.82", "as": "ly"}], "mark": {"type": "text", "fontSize": 19, "font": "DejaVu Sans", "color": "black"}, "encoding": {"x": {"field": "lx", "type": "quantitative", "scale": {"domain": [-1.05, 1.05], "nice": false, "zero": false}, "axis": null}, "y": {"field": "ly", "type": "quantitative", "scale": {"domain": [-1.05, 1.05], "nice": false, "zero": false}, "axis": null}, "text": {"field": "a"}}},
            {"data": {"name": "scores"}, "transform": [{"filter": "datum.p=='P7'"}, {"calculate": "(datum.a=='1B'||datum.a=='1C'?1:-1)*datum.v*0.70711", "as": "x"}, {"calculate": "(datum.a=='1B'||datum.a=='2C'?1:-1)*datum.v*0.70711", "as": "y"}],
             "encoding": {"x": {"field": "x", "type": "quantitative", "scale": {"domain": [-1.05, 1.05], "nice": false, "zero": false}, "axis": null}, "y": {"field": "y", "type": "quantitative", "scale": {"domain": [-1.05, 1.05], "nice": false, "zero": false}, "axis": null},
              "color": {"field": "m", "type": "nominal", "scale": {"domain": ["DPClust","Ccube","Palimpsest","SciClone","TrackSigFreq","PhylogicNDT","CloneSig","PyClone","TrackSig"], "range": ["#88c4e6","#4a87b6","#e0507c","#e2f3a4","#7e3ff0","#f2b6dc","#fd9a50","#80cfb6","#c4c4f4"]}, "legend": null}},
             "layer": [
              {"mark": {"type": "line", "interpolate": "linear-closed", "strokeWidth": 2.8, "opacity": 0.9}, "encoding": {"order": {"field": "a", "type": "ordinal"}}},
              {"mark": {"type": "point", "filled": true, "size": 110, "opacity": 1}}
             ]}
           ]}
        ]}
      ]
    }
  ]
  },
  {
    "width": 1, "height": 30,
    "data": {"name": "scores"},
    "transform": [{"filter": "datum.p=='P1'"}],
    "mark": {"type": "point", "filled": true, "size": 0, "opacity": 1},
    "encoding": {
      "fill": {"field": "m", "type": "nominal", "title": null, "scale": {"domain": ["DPClust","Ccube","Palimpsest","SciClone","TrackSigFreq","PhylogicNDT","CloneSig","PyClone","TrackSig"], "range": ["#88c4e6","#4a87b6","#e0507c","#e2f3a4","#7e3ff0","#f2b6dc","#fd9a50","#80cfb6","#c4c4f4"]},
        "legend": {"orient": "none", "legendX": 160, "legendY": 5, "columns": 5, "direction": "horizontal", "symbolType": "M-1,-0.36H1V0.36H-1Z", "symbolSize": 625, "labelFontSize": 13, "labelFont": "DejaVu Sans", "labelColor": "black", "labelOffset": 12, "strokeColor": "#cccccc", "fillColor": "white", "padding": 4, "cornerRadius": 4, "columnPadding": 26, "rowPadding": 0, "symbolStrokeColor": "black", "symbolStrokeWidth": 0.8, "symbolOpacity": 1}}
    }
  }
  ]
}
